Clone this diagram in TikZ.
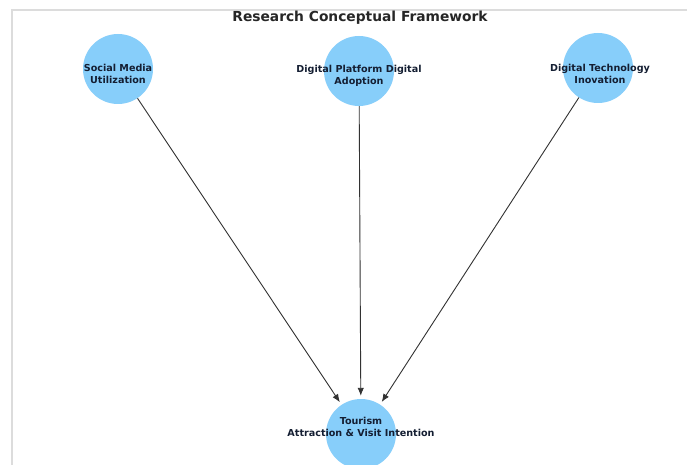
\documentclass[tikz,border=0pt]{standalone}
\usepackage{fontspec}
\setmainfont{DejaVu Sans}
\usetikzlibrary{arrows.meta}
\definecolor{nodeblue}{RGB}{135,206,250}
\definecolor{edgegray}{RGB}{50,50,50}
\definecolor{framegray}{RGB}{220,220,220}
\definecolor{labelink}{RGB}{20,30,50}
\tikzset{
  concept/.style={circle, fill=nodeblue, draw=none, minimum size=70pt, inner sep=0pt},
  conceptlabel/.style={font=\fontsize{9.6}{12.5}\selectfont\bfseries, text=labelink, align=center, inner sep=0pt},
  titletext/.style={font=\fontsize{13.8}{15}\selectfont\bfseries, text=black!85, inner sep=0pt},
  link/.style={draw=edgegray, line width=0.9pt, -{Latex[length=8pt,width=6.5pt]}, shorten >=3pt}
}
\begin{document}
\begin{tikzpicture}[x=1pt,y=-1pt]
\useasboundingbox (0,0) rectangle (687,465);
\clip (0,0) rectangle (687,465);
\fill[white] (0,0) rectangle (687,465);
% faint screenshot frame
\draw[framegray, line width=1.2pt] (12,465) -- (12,10) -- (687,10);
% title
\node[titletext] (title) at (360,18) {Research Conceptual Framework};
% concept circles
\node[concept] (sm) at (118,69) {};
\node[concept] (dp) at (359,71) {};
\node[concept] (dt) at (598,68) {};
\node[concept] (ta) at (361,434) {};
% labels
\node[conceptlabel] (smL) at (118,74) {Social Media\\Utilization};
\node[conceptlabel] (dpL) at (359,76) {Digital Platform Digital\\Adoption};
\node[conceptlabel] (dtL) at (600,74) {Digital Technology\\Inovation};
\node[conceptlabel] (taL) at (361,427) {Tourism\\Attraction \& Visit Intention};
% connectors
\draw[link] (sm) -- (ta);
\draw[link] (dp) -- (ta);
\draw[link] (dt) -- (ta);
\end{tikzpicture}
\end{document}
